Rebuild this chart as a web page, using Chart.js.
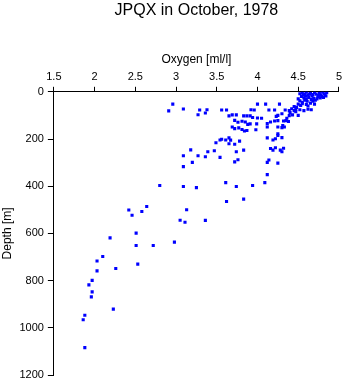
<!DOCTYPE html>
<html>
<head>
<meta charset="utf-8">
<script src="https://cdn.jsdelivr.net/npm/chart.js@4/dist/chart.umd.min.js"></script>
<style>
  html, body { margin: 0; padding: 0; background: #fff; }
  #wrap { width: 345px; height: 384px; }
</style>
</head>
<body>
<div id="wrap"><canvas id="profileChart"></canvas></div>
<script>
// Axis ticks
const oxygenTicks = [1.5, 2, 2.5, 3, 3.5, 4, 4.5, 5];
const depthTicks = [0, 200, 400, 600, 800, 1000, 1200];

// Oxygen readings (ml/l)
const oxygen = [
    // deep part
    2.19, 2.51, 2.51, 2.72, 2.98, 2.10, 2.03, 2.26, 2.53, 2.03, 1.97, 1.93, 1.97, 1.96, 2.23, 1.88, 1.86, 1.88,
    // left edge, mid depths
    2.96, 2.91, 3.09, 3.09, 3.09, 2.80, 3.09, 2.42, 2.46, 2.58, 2.64, 3.13, 3.05, 3.11,
    // main body
    3.29, 3.38, 3.27, 3.36, 3.56, 3.62, 3.69, 3.65, 3.74, 3.92, 3.96, 4.00, 4.10, 4.14, 4.21, 4.27, 4.34,
    4.25, 4.23, 4.30, 3.83, 3.87, 3.91, 3.94, 4.00, 4.05, 3.72, 3.76, 3.81, 3.85, 3.88, 3.91, 3.99,
    3.69, 3.72, 3.77, 3.81, 3.84, 3.87, 3.98, 4.12, 4.16, 4.21, 4.25, 4.32, 4.35, 4.38, 4.36, 4.39,
    4.43, 4.50, 4.39, 4.45, 4.47, 4.12, 4.25, 4.30, 4.33, 4.31, 4.25, 4.25, 4.30, 4.22, 4.19, 4.12,
    3.65, 3.61, 3.67, 3.54, 3.56, 3.49, 3.65, 3.72, 3.78, 3.18, 3.27, 3.36, 3.39, 3.47, 3.54, 3.74,
    3.83, 3.72, 3.76, 3.20, 4.16, 4.19, 4.22, 4.28, 4.30, 4.32, 4.12, 4.14, 4.25, 4.12, 4.09, 3.25,
    3.61, 3.74, 3.94, 3.83, 3.62, 3.36,
    // surface cluster
    4.52, 4.55, 4.58, 4.60, 4.62, 4.65, 4.67, 4.70, 4.72, 4.74, 4.76, 4.78, 4.80, 4.82, 4.84, 4.85,
    4.54, 4.57, 4.60, 4.63, 4.66, 4.69, 4.71, 4.73, 4.77, 4.81, 4.56, 4.59, 4.64, 4.68, 4.75, 4.79,
    4.83, 4.50, 4.52, 4.55, 4.58, 4.61, 4.50, 4.55, 4.60, 4.65, 4.70, 4.42, 4.47, 4.52, 4.57, 4.62,
    4.66, 4.45, 4.40, 4.48, 4.53, 4.68, 4.62
];

// Matching depths (m)
const depth = [
    619, 599, 651, 651, 637, 698, 717, 749, 730, 759, 799, 818, 848, 869, 921, 947, 966, 1084,
    52, 81, 73, 271, 317, 397, 401, 501, 523, 507, 486, 500, 544, 553,
    77, 76, 97, 90, 77, 77, 98, 102, 98, 76, 77, 52, 52, 77, 77, 52, 77,
    100, 104, 93, 102, 102, 102, 109, 111, 112, 121, 129, 125, 128, 138, 136, 136,
    149, 156, 153, 160, 166, 164, 161, 135, 128, 124, 122, 124, 122, 126, 112, 101,
    98, 100, 80, 80, 74, 149, 149, 152, 149, 143, 178, 185, 194, 199, 204, 195,
    195, 204, 205, 204, 201, 216, 220, 222, 209, 246, 271, 275, 254, 250, 278, 254,
    247, 297, 288, 299, 240, 247, 237, 247, 254, 239, 299, 289, 302, 351, 385, 406,
    385, 401, 397, 455, 465, 545,
    8, 4, 10, 2, 14, 6, 18, 3, 10, 22, 5, 14, 2, 8, 18, 4,
    20, 26, 30, 24, 32, 28, 36, 30, 26, 24, 14, 18, 10, 12, 16, 20,
    12, 30, 38, 44, 36, 40, 52, 50, 54, 48, 52, 72, 84, 76, 80, 74,
    76, 62, 88, 66, 58, 40, 60
];

const points = oxygen.map((o, i) => ({ x: o, y: depth[i] }));

Chart.defaults.font.family = '"Liberation Sans", Arial, Helvetica, sans-serif';
Chart.defaults.color = '#000';

const ctx = document.getElementById('profileChart').getContext('2d');
new Chart(ctx, {
    type: 'scatter',
    data: {
        datasets: [{
            data: points,
            pointStyle: 'rect',
            pointRadius: 2.2,
            pointBorderWidth: 0,
            backgroundColor: '#0000ff',
            borderColor: '#0000ff'
        }]
    },
    options: {
        responsive: true,
        maintainAspectRatio: false,
        animation: false,
        layout: {
            padding: { left: 0, right: 4, top: 0, bottom: 9 }
        },
        plugins: {
            legend: { display: false },
            tooltip: { enabled: false },
            title: {
                display: true,
                text: 'JPQX in October, 1978',
                fullSize: false,
                font: { size: 16, weight: 'normal' },
                padding: { top: 1, bottom: 2 }
            }
        },
        scales: {
            x: {
                type: 'linear',
                position: 'top',
                min: 1.5,
                max: 5,
                afterBuildTicks: (axis) => {
                    axis.ticks = oxygenTicks.map(v => ({ value: v }));
                },
                ticks: {
                    font: { size: 11 },
                    padding: 3,
                    callback: (v) => String(v)
                },
                grid: {
                    drawOnChartArea: false,
                    drawTicks: true,
                    tickLength: 5,
                    color: '#000'
                },
                border: { display: true, color: '#000' },
                title: {
                    display: true,
                    text: 'Oxygen [ml/l]',
                    font: { size: 12 },
                    padding: { top: 30, bottom: 1 }
                }
            },
            y: {
                type: 'linear',
                reverse: true,
                min: 0,
                max: 1200,
                afterBuildTicks: (axis) => {
                    axis.ticks = depthTicks.map(v => ({ value: v }));
                },
                // let the plot run down to the layout padding
                afterFit: (axis) => {
                    axis.paddingTop = 0;
                    axis.paddingBottom = 0;
                },
                ticks: {
                    font: { size: 11 },
                    padding: 4,
                    callback: (v) => String(v)
                },
                grid: {
                    drawOnChartArea: false,
                    drawTicks: true,
                    tickLength: 6,
                    color: '#000'
                },
                border: { display: true, color: '#000' },
                title: {
                    display: true,
                    text: 'Depth [m]',
                    font: { size: 12 },
                    padding: { top: 0, bottom: 1 }
                }
            }
        }
    }
});
</script>
</body>
</html>
